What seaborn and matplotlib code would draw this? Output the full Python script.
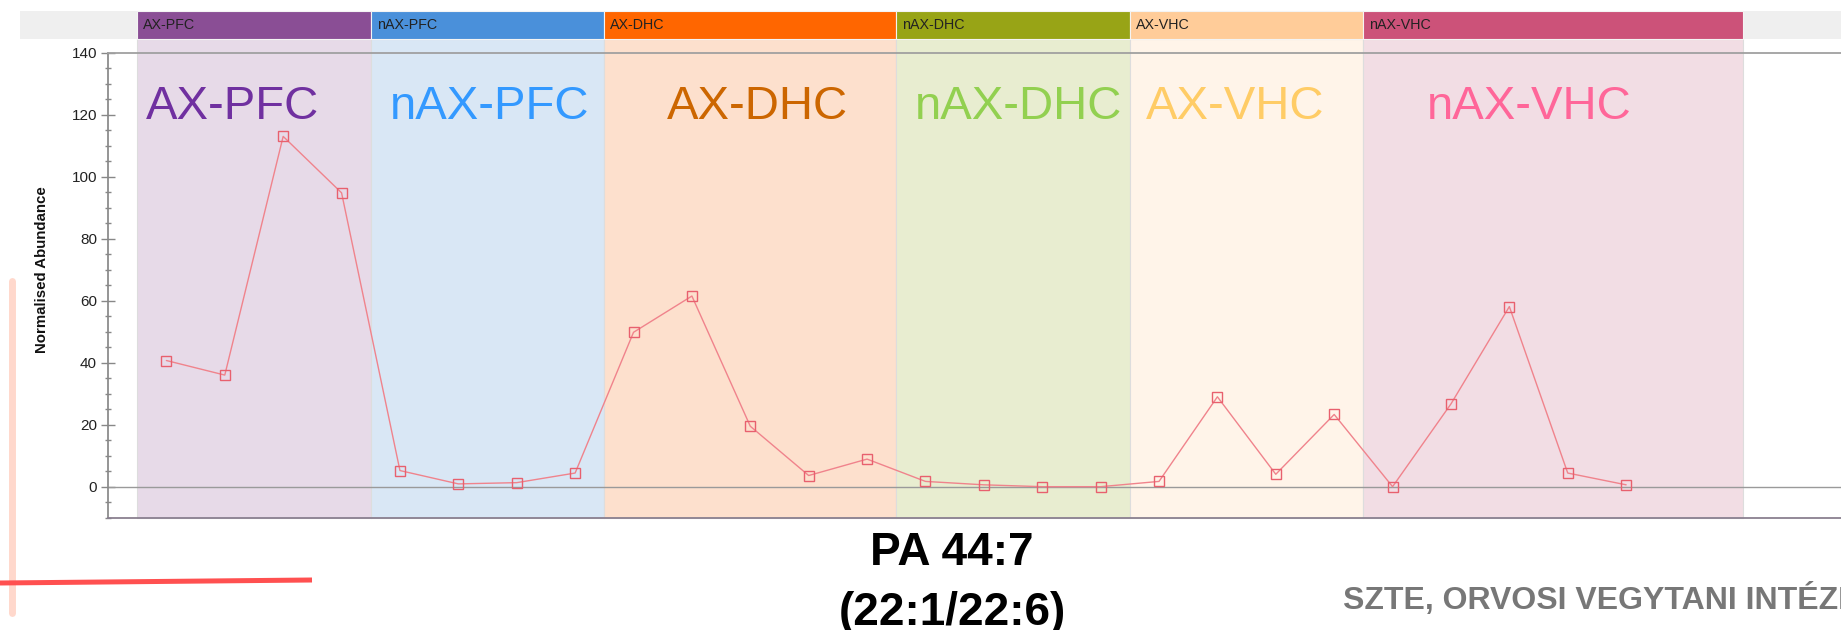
import numpy as np
import pandas as pd
import seaborn as sns
import matplotlib.pyplot as plt
from matplotlib.patches import Rectangle
from matplotlib.lines import Line2D
from matplotlib.ticker import MultipleLocator

sns.set_theme(style="white")
plt.rcParams['font.family'] = ['Liberation Sans', 'DejaVu Sans']

# ---------- Data ----------
regions = ['AX-PFC', 'nAX-PFC', 'AX-DHC', 'nAX-DHC', 'AX-VHC', 'nAX-VHC']
region_sizes = [4, 4, 5, 4, 4, 5]
abundance = [40.7, 36.0, 113.0, 94.8,
             5.2, 0.9, 1.3, 4.4,
             49.8, 61.5, 19.5, 3.6, 8.9,
             1.7, 0.6, 0.0, 0.0,
             1.7, 29.0, 4.0, 23.3,
             0.0, 26.7, 58.1, 4.4, 0.6]

# ---------- Styles ----------
header_colors = ['#8A4E95', '#4A90DA', '#FF6600', '#98A416', '#FFCC99', '#CC5279']
shade_colors = ['#E7DAE8', '#D9E7F5', '#FDE0CD', '#E8EDD0', '#FFF4E9', '#F2DDE4']
big_colors = ['#7030A0', '#3399FF', '#CC6600', '#92D050', '#FFCC66', '#FF6699']
big_label_x = [1.13, 5.53, 10.12, 14.59, 18.31, 23.34]
region_ends = [3.5, 7.5, 12.5, 16.5, 20.5, 27.0]

df = pd.DataFrame({
    'idx': np.arange(len(abundance)),
    'value': abundance,
    'region': np.repeat(regions, region_sizes),
})

W, H = 1841, 630
fig = plt.figure(figsize=(W / 100, H / 100), dpi=100)
ax_left, ax_bottom = 108 / W, 1 - 518.3 / H
ax_top = 1 - 52.7 / H
ax = fig.add_axes([ax_left, ax_bottom, 1 - ax_left, ax_top - ax_bottom])
ax.set_xlim(-1, 28.68)
ax.set_ylim(-10.2, 140)

# grey header band across the top
fig.add_artist(Rectangle((20 / W, 1 - 39.3 / H), 1 - 20 / W, 28.3 / H,
                         transform=fig.transFigure, color='#EFEFEF', lw=0, zorder=0))

trans = ax.get_xaxis_transform()
ax_h = 465.6
shade_top = 1 + (52.7 - 39.3) / ax_h
head_top = 1 + (52.7 - 11.0) / ax_h
starts = [-0.5] + region_ends[:-1]
for i, name in enumerate(regions):
    x0, x1 = starts[i], region_ends[i]
    ax.add_patch(Rectangle((x0, 0), x1 - x0, shade_top, transform=trans,
                           facecolor=shade_colors[i], edgecolor='#DDDDDD', lw=0.8,
                           clip_on=False, zorder=0))
    ax.add_patch(Rectangle((x0, shade_top), x1 - x0, head_top - shade_top, transform=trans,
                           facecolor=header_colors[i], edgecolor='#F4F4F4', lw=0.8,
                           clip_on=False, zorder=1))
    ax.text(x0 + 0.1, (shade_top + head_top) / 2, name, transform=trans,
            fontsize=10.3, color='#222222', va='center', ha='left', clip_on=False)
    ax.text(big_label_x[i], 122.4, name, fontsize=34, color=big_colors[i],
            ha='center', va='center', zorder=2)

ax.axhline(0, color='#9A9A9A', lw=1.0, zorder=1)

sns.lineplot(data=df, x='idx', y='value', ax=ax, color='#F0838C', lw=1.0,
             marker='s', markersize=7, markerfacecolor='none',
             markeredgecolor='#E8606E', markeredgewidth=1.0, zorder=3)

# axes styling
ax.spines['right'].set_visible(False)
ax.spines['top'].set_color('#A0A0A0')
ax.spines['top'].set_linewidth(1.3)
ax.spines['left'].set_color('#888888')
ax.spines['bottom'].set_color('#8A8090')
ax.spines['bottom'].set_linewidth(1.3)
ax.yaxis.set_major_locator(MultipleLocator(20))
ax.yaxis.set_minor_locator(MultipleLocator(5))
ax.tick_params(axis='y', which='major', direction='inout', length=10, width=1,
               color='#888888', labelsize=11, labelcolor='#222222', pad=3, left=True)
ax.tick_params(axis='y', which='minor', direction='inout', length=5, width=1,
               color='#888888', left=True)
ax.set_xticks([])
ax.set_xlabel('')
ax.set_ylabel('Normalised Abundance', fontsize=10.8, fontweight='bold', color='#111111')
ax.yaxis.set_label_coords((49 - 108) / (W - 108), 0.535)
ax.patch.set_alpha(0)

# titles below the chart
fig.text(952 / W, 1 - 553 / H, 'PA 44:7', fontsize=33, fontweight='bold',
         ha='center', va='center', color='black')
fig.text(952 / W, 1 - 613 / H, '(22:1/22:6)', fontsize=33, fontweight='bold',
         ha='center', va='center', color='black')
fig.text(1343 / W, 1 - 600 / H, 'SZTE, ORVOSI VEGYTANI INTÉZET', fontsize=23,
         fontweight='bold', ha='left', va='center', color='#777777')

# slide decorations at the lower left
fig.add_artist(Line2D([11.5 / W, 11.5 / W], [1 - 281 / H, 1 - 613 / H],
                      transform=fig.transFigure, color='#FFD8CC', lw=5))
fig.add_artist(Line2D([0, 312 / W], [1 - 583 / H, 1 - 580 / H],
                      transform=fig.transFigure, color='#FF5050', lw=3.6,
                      solid_capstyle='butt'))

fig.savefig('out.png', dpi=100)
